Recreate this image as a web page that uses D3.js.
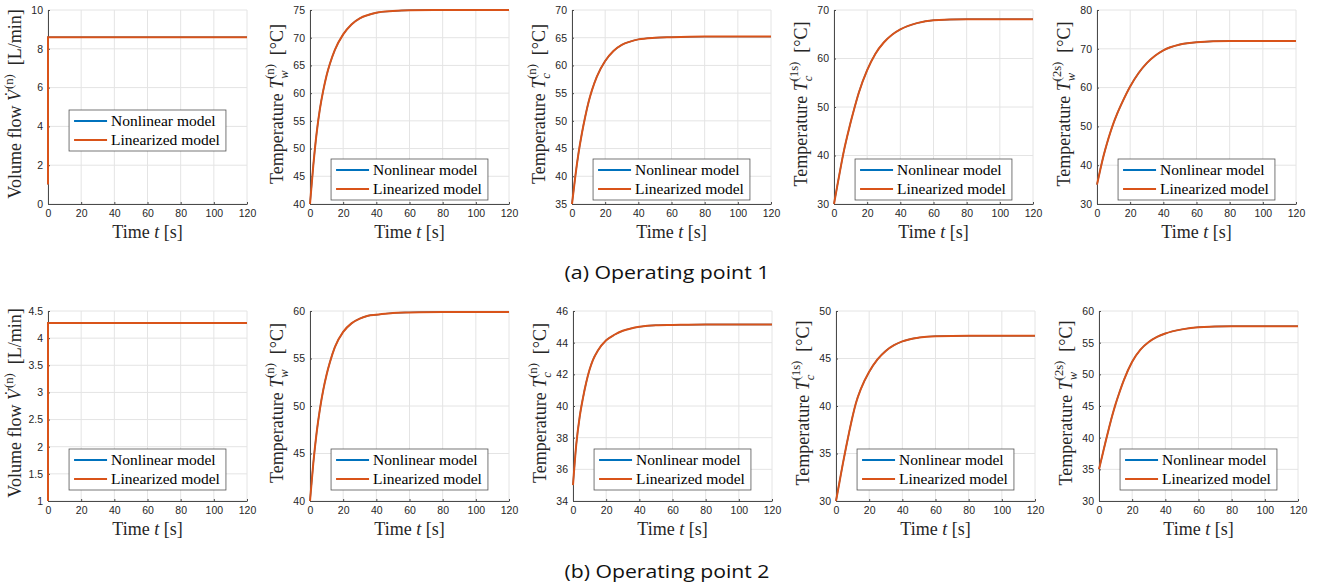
<!DOCTYPE html>
<html>
<head>
<meta charset="utf-8">
<script src="https://cdn.jsdelivr.net/npm/d3@7"></script>
<style>
  body { margin: 0; background: #fff; }
  svg { display: block; }
</style>
</head>
<body>
<div id="chart"></div>
<script>
// sample times (s) shared by all temperature traces
const timeSteps = [0, 2, 4, 6, 8, 10, 12, 15, 20, 25, 30, 35, 40, 50, 60, 80, 100, 120];

// Operating point 1
const op1FlowTime = [0, 0, 120];
const op1Flow = [1, 8.6, 8.6];
const op1TwN = [40, 47, 52.8, 57.2, 60.5, 63.2, 65.3, 67.8, 70.6, 72.4, 73.5, 74.1, 74.5, 74.8, 74.95, 75, 75, 75];
const op1TcN = [35, 40, 44.3, 47.8, 50.8, 53.4, 55.5, 58, 60.8, 62.6, 63.7, 64.3, 64.7, 65, 65.1, 65.2, 65.2, 65.2];
const op1Tc1s = [30, 33.8, 37.5, 41, 44, 46.8, 49.4, 53, 57.6, 61, 63.3, 64.9, 66, 67.3, 67.9, 68.1, 68.1, 68.1];
const op1Tw2s = [35, 38.9, 42.5, 45.6, 48.4, 50.9, 53.1, 56, 60.3, 63.7, 66.3, 68.2, 69.6, 71.1, 71.7, 72, 72, 72];

// Operating point 2
const op2FlowTime = [0, 0, 120];
const op2Flow = [1, 4.28, 4.28];
const op2TwN = [40, 44, 47.2, 49.7, 51.7, 53.3, 54.6, 56.2, 57.8, 58.7, 59.2, 59.5, 59.6, 59.8, 59.85, 59.9, 59.9, 59.9];
const op2TcN = [35, 37.6, 39.3, 40.5, 41.5, 42.3, 42.9, 43.5, 44.15, 44.5, 44.75, 44.9, 45, 45.1, 45.12, 45.15, 45.15, 45.15];
const op2Tc1s = [30, 31.9, 33.8, 35.6, 37.3, 38.9, 40.3, 41.8, 43.6, 44.9, 45.8, 46.4, 46.8, 47.2, 47.35, 47.4, 47.4, 47.4];
const op2Tw2s = [35, 37.2, 39.4, 41.5, 43.5, 45.3, 46.9, 49.1, 52, 53.9, 55.1, 55.9, 56.45, 57.1, 57.45, 57.6, 57.6, 57.6];

// tick labels
const xTicks = [0, 20, 40, 60, 80, 100, 120];
const op1YTicks = [
  [0, 2, 4, 6, 8, 10],
  [40, 45, 50, 55, 60, 65, 70, 75],
  [35, 40, 45, 50, 55, 60, 65, 70],
  [30, 40, 50, 60, 70],
  [30, 40, 50, 60, 70, 80]
];
const op2YTicks = [
  [1, 1.5, 2, 2.5, 3, 3.5, 4, 4.5],
  [40, 45, 50, 55, 60],
  [34, 36, 38, 40, 42, 44, 46],
  [30, 35, 40, 45, 50],
  [30, 35, 40, 45, 50, 55, 60]
];

const seriesNames = ["Nonlinear model", "Linearized model"];
const captions = ["(a) Operating point 1", "(b) Operating point 2"];

// y-axis label pieces: variable symbol, subscript, superscript, unit
const yLabels = [
  { name: "Volume flow ", sym: "V\u0307", sub: "", sup: "(n)", unit: "[L/min]" },
  { name: "Temperature ", sym: "T", sub: "w", sup: "(n)", unit: "[\u00B0C]" },
  { name: "Temperature ", sym: "T", sub: "c", sup: "(n)", unit: "[\u00B0C]" },
  { name: "Temperature ", sym: "T", sub: "c", sup: "(1s)", unit: "[\u00B0C]" },
  { name: "Temperature ", sym: "T", sub: "w", sup: "(2s)", unit: "[\u00B0C]" }
];

const rows = [
  {
    top: 10, height: 194, lefts: [48, 310, 572, 834, 1097], legendTops: [110, 159, 159, 159, 159],
    caption: captions[0], captionY: 279,
    series: [[op1FlowTime, op1Flow], [timeSteps, op1TwN], [timeSteps, op1TcN], [timeSteps, op1Tc1s], [timeSteps, op1Tw2s]],
    yTicks: op1YTicks
  },
  {
    top: 311, height: 190, lefts: [48, 310, 573, 836, 1099], legendTops: [449, 449, 449, 449, 449],
    caption: captions[1], captionY: 578,
    series: [[op2FlowTime, op2Flow], [timeSteps, op2TwN], [timeSteps, op2TcN], [timeSteps, op2Tc1s], [timeSteps, op2Tw2s]],
    yTicks: op2YTicks
  }
];

const width = 1317, height = 588;
const plotW = 199;
const colors = ["#0072BD", "#D95319"];
const serif = "'Liberation Serif', 'Times New Roman', serif";
const sans = "'Liberation Sans', Arial, Helvetica, sans-serif";
const axisColor = "#262626";

const svg = d3.select("#chart").append("svg").attr("width", width).attr("height", height);

function drawYLabel(g, cx, cy, lab) {
  const fs = 18;
  const text = g.append("text")
    .attr("transform", `translate(${cx},${cy}) rotate(-90)`)
    .attr("text-anchor", "middle")
    .attr("font-family", serif)
    .attr("font-size", fs)
    .attr("fill", axisColor);
  text.append("tspan").text(lab.name);
  text.append("tspan").attr("font-style", "italic").text(lab.sym);
  if (lab.sub) {
    const sub = text.append("tspan").attr("font-style", "italic").attr("font-size", fs * 0.7)
      .attr("dy", fs * 0.28).text(lab.sub);
    const w = sub.node().getComputedTextLength();
    text.append("tspan").attr("font-size", fs * 0.7)
      .attr("dx", -w).attr("dy", -fs * 0.78).text(lab.sup);
    text.append("tspan").attr("dy", fs * 0.5).text("\u2002" + lab.unit);
  } else {
    text.append("tspan").attr("font-size", fs * 0.7).attr("dx", 1)
      .attr("dy", -fs * 0.42).text(lab.sup);
    text.append("tspan").attr("dy", fs * 0.42).text("\u2002" + lab.unit);
  }
}

rows.forEach(row => {
  row.lefts.forEach((left, ci) => {
    const [ts, vs] = row.series[ci];
    const ticks = row.yTicks[ci];
    const pts = ts.map((t, i) => ({ t, v: vs[i] }));

    const x = d3.scaleLinear().domain([0, 120]).range([left, left + plotW]);
    const y = d3.scaleLinear().domain(d3.extent(ticks)).range([row.top + row.height, row.top]);

    const g = svg.append("g");

    // grid
    g.append("g").selectAll("line").data(ticks).join("line")
      .attr("x1", left).attr("x2", left + plotW)
      .attr("y1", d => y(d)).attr("y2", d => y(d))
      .attr("stroke", "#e4e4e4").attr("stroke-width", 1);
    g.append("g").selectAll("line").data(xTicks).join("line")
      .attr("x1", d => x(d)).attr("x2", d => x(d))
      .attr("y1", row.top).attr("y2", row.top + row.height)
      .attr("stroke", "#e4e4e4").attr("stroke-width", 1);

    // axes (box off, ticks inward)
    const xAxis = g.append("g")
      .attr("transform", `translate(0,${row.top + row.height})`)
      .call(d3.axisBottom(x).tickValues(xTicks).tickFormat(d => d).tickSizeInner(-2).tickSizeOuter(0).tickPadding(6));
    const yAxis = g.append("g")
      .attr("transform", `translate(${left},0)`)
      .call(d3.axisLeft(y).tickValues(ticks).tickFormat(d => d).tickSizeInner(-2).tickSizeOuter(0).tickPadding(5));
    [xAxis, yAxis].forEach(a => {
      a.select(".domain").attr("stroke", "#4a4a4a");
      a.selectAll(".tick line").attr("stroke", "#4a4a4a");
      a.selectAll(".tick text").attr("fill", axisColor).attr("font-family", sans).attr("font-size", 10.5);
    });

    // lines: nonlinear first, linearized drawn over it
    const line = d3.line().x(d => x(d.t)).y(d => y(d.v))
      .curve(ci === 0 ? d3.curveLinear : d3.curveMonotoneX);
    colors.forEach((c, i) => {
      g.append("path").datum(pts).attr("d", line)
        .attr("fill", "none").attr("stroke", c).attr("stroke-width", i === 0 ? 1.4 : 2);
    });

    // axis titles
    const xt = g.append("text")
      .attr("x", left + plotW / 2).attr("y", row.top + row.height + 34)
      .attr("text-anchor", "middle").attr("font-family", serif).attr("font-size", 18)
      .attr("fill", axisColor);
    xt.append("tspan").text("Time ");
    xt.append("tspan").attr("font-style", "italic").text("t");
    xt.append("tspan").text(" [s]");
    drawYLabel(g, left - 27, row.top + row.height / 2 - 3, yLabels[ci]);

    // legend
    const lg = g.append("g");
    const lt = row.legendTops[ci];
    const texts = seriesNames.map((s, i) => lg.append("text")
      .attr("y", lt + 11 + i * 19).attr("dy", "0.35em")
      .attr("font-family", serif).attr("font-size", 15.5).attr("fill", "#000").text(s));
    const tw = d3.max(texts, t => t.node().getComputedTextLength());
    const bw = 42 + tw + 6;
    const bx = left + plotW / 2 - bw / 2;
    lg.insert("rect", "text").attr("x", bx).attr("y", lt).attr("width", bw).attr("height", 41)
      .attr("fill", "#fff").attr("stroke", "#555").attr("stroke-width", 0.8);
    texts.forEach(t => t.attr("x", bx + 42));
    colors.forEach((c, i) => {
      lg.append("line").attr("x1", bx + 5).attr("x2", bx + 38)
        .attr("y1", lt + 11 + i * 19).attr("y2", lt + 11 + i * 19)
        .attr("stroke", c).attr("stroke-width", 2);
    });
  });

  svg.append("text").attr("x", 667).attr("y", row.captionY)
    .attr("text-anchor", "middle").attr("font-family", "'Open Sans', 'Noto Sans', sans-serif")
    .attr("font-size", 19).attr("fill", "#111")
    .attr("textLength", 205).attr("lengthAdjust", "spacingAndGlyphs")
    .text(row.caption);
});
</script>
</body>
</html>
